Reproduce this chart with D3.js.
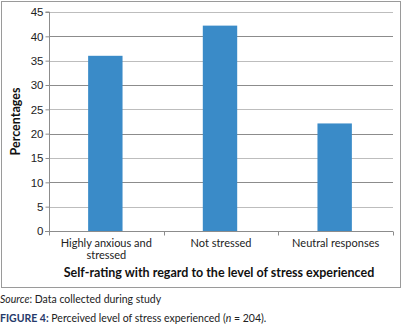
<!DOCTYPE html>
<html lang="en">
<head>
<meta charset="UTF-8">
<title>Perceived level of stress</title>
<style>
    body { margin: 0; background: #fff; font-family: Lato, "Open Sans", sans-serif; }
    .tick text { font-size: 11.5px; fill: #222; }
    .ytitle, .xtitle { font-weight: bold; fill: #111; }
</style>
</head>
<body>
<svg width="403" height="326"></svg>
<script src="https://d3js.org/d3.v7.min.js"></script>
<script>
    const categories = ["Highly anxious and stressed", "Not stressed", "Neutral responses"];
    const catLines = [["Highly anxious and", "stressed"], ["Not stressed"], ["Neutral responses"]];
    const values = [36, 42.2, 22.1];
    const yTicks = [0, 5, 10, 15, 20, 25, 30, 35, 40, 45];

    const svg = d3.select("svg");
    const plotLeft = 49, plotRight = 393, plotTop = 12, plotBottom = 231;

    // outer frame
    svg.append("rect")
        .attr("x", 1.5).attr("y", 1.5)
        .attr("width", 399).attr("height", 286)
        .attr("fill", "none").attr("stroke", "#9a9a9a");

    const x = d3.scaleBand().domain(categories).range([plotLeft, plotRight]).paddingInner(0).paddingOuter(0);
    const y = d3.scaleLinear().domain([0, 45]).range([plotBottom, plotTop]);

    // gridlines
    svg.append("g").selectAll("line")
        .data(yTicks.filter(d => d > 0))
        .join("line")
        .attr("x1", plotLeft).attr("x2", plotRight)
        .attr("y1", d => Math.round(y(d)) + 0.5).attr("y2", d => Math.round(y(d)) + 0.5)
        .attr("stroke", (d, i) => i % 2 ? "#8c8c8c" : "#bdbdbd");

    // bars
    const barW = x.bandwidth() * 0.3;
    svg.append("g").selectAll("rect")
        .data(values)
        .join("rect")
        .attr("x", (d, i) => x(categories[i]) + (x.bandwidth() - barW) / 2 - 1)
        .attr("y", d => y(d))
        .attr("width", barW)
        .attr("height", d => plotBottom - y(d))
        .attr("fill", "#3a8bc8");

    // y axis
    const yAxis = svg.append("g")
        .attr("transform", `translate(${plotLeft + 0.5},0)`)
        .call(d3.axisLeft(y).tickValues(yTicks).tickSize(4).tickPadding(2));
    yAxis.selectAll("path, line").attr("stroke", "#8c8c8c");
    yAxis.select(".domain").attr("d", `M-4,${plotTop}H0V${plotBottom}`);

    // x axis
    const xAxis = svg.append("g")
        .attr("transform", `translate(0,${plotBottom + 0.5})`);
    xAxis.append("line")
        .attr("x1", plotLeft - 4).attr("x2", plotRight)
        .attr("stroke", "#8c8c8c");
    xAxis.selectAll(".sep")
        .data([plotLeft, ...categories.map(c => x(c) + x.bandwidth())])
        .join("line")
        .attr("class", "sep")
        .attr("x1", d => Math.round(d) + 0.5).attr("x2", d => Math.round(d) + 0.5)
        .attr("y1", 0).attr("y2", 4)
        .attr("stroke", "#8c8c8c");

    const lbl = svg.append("g").selectAll("text")
        .data(categories)
        .join("text")
        .attr("x", d => x(d) + x.bandwidth() / 2)
        .attr("y", 247)
        .attr("text-anchor", "middle")
        .attr("font-size", 11)
        .attr("fill", "#222");
    lbl.selectAll("tspan")
        .data((d, i) => catLines[i])
        .join("tspan")
        .attr("x", function () { return d3.select(this.parentNode).attr("x"); })
        .attr("dy", (d, i) => i ? 12 : 0)
        .text(d => d);

    // axis titles
    svg.append("text")
        .attr("class", "ytitle")
        .attr("transform", `translate(20,${(plotTop + plotBottom) / 2}) rotate(-90)`)
        .attr("text-anchor", "middle")
        .attr("font-size", 12.5)
        .text("Percentages");

    svg.append("text")
        .attr("class", "xtitle")
        .attr("x", (plotLeft + plotRight) / 2 - 2)
        .attr("y", 277)
        .attr("text-anchor", "middle")
        .attr("font-size", 12.5)
        .text("Self-rating with regard to the level of stress experienced");

    // caption
    const src = svg.append("text").attr("x", 0).attr("y", 303).attr("font-size", 10.5).attr("fill", "#222");
    src.append("tspan").attr("font-style", "italic").text("Source");
    src.append("tspan").text(": Data collected during study");

    const fig = svg.append("text").attr("x", 0).attr("y", 322).attr("font-size", 10.5).attr("fill", "#222");
    fig.append("tspan").attr("font-weight", "bold").attr("fill", "#26396a").text("FIGURE 4:");
    fig.append("tspan").text(" Perceived level of stress experienced (");
    fig.append("tspan").attr("font-style", "italic").text("n");
    fig.append("tspan").text(" = 204).");
</script>
</body>
</html>
